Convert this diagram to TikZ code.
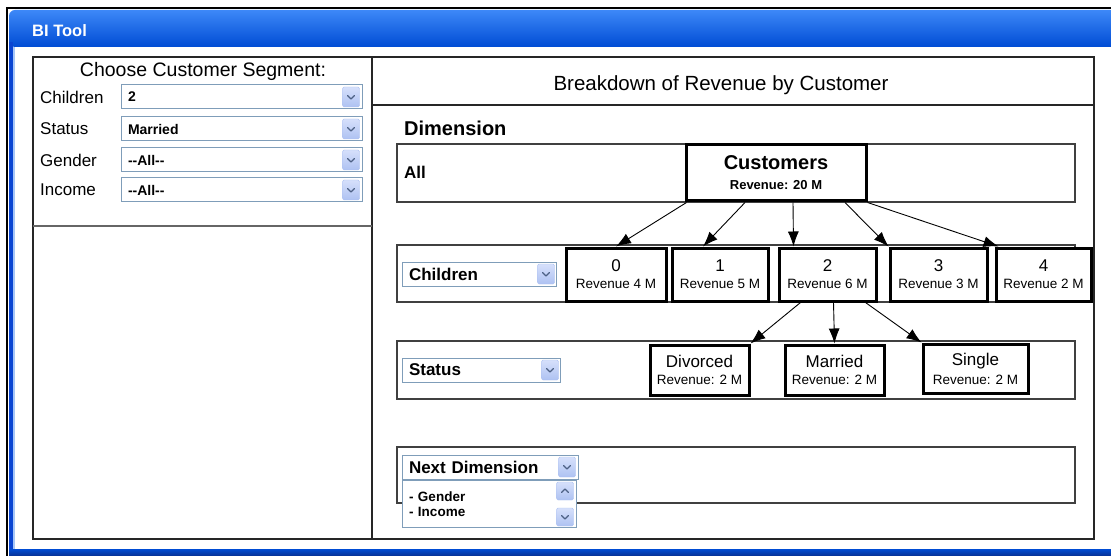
\documentclass[tikz,border=0pt]{standalone}
\usepackage{fontspec}
\setmainfont{Liberation Sans}
\usetikzlibrary{arrows.meta,positioning}

\definecolor{barmid}{HTML}{0865F5}
\definecolor{bartop}{HTML}{3D88F8}
\definecolor{barbot}{HTML}{004CD4}
\definecolor{framedark}{HTML}{0A45D2}
\definecolor{framelight}{HTML}{A6C6F8}
\definecolor{comboline}{HTML}{7F9DB9}
\definecolor{btntop}{HTML}{D6E0FB}
\definecolor{btnbot}{HTML}{AEC2F2}
\definecolor{chevclr}{HTML}{4D6185}
\definecolor{rowline}{HTML}{404040}

\newcommand{\fsz}[1]{\fontsize{#1}{1.15\dimexpr#1pt\relax}\selectfont}
\newcommand{\allopt}{-\kern0pt-All-\kern0pt-}
\newcommand{\revtxt}[2]{{\fsz{17}#1}\\[5pt]{\fsz{13.5}#2}}
\newcommand{\chevdown}[1]{\draw[chev] ([shift={(-3.5,-1.5)}]#1.center) -- ([shift={(0,2)}]#1.center) -- ([shift={(3.5,-1.5)}]#1.center);}
\newcommand{\chevup}[1]{\draw[chev] ([shift={(-3.5,1.5)}]#1.center) -- ([shift={(0,-2)}]#1.center) -- ([shift={(3.5,1.5)}]#1.center);}

\tikzset{
  box/.style={draw, line width=3pt, inner sep=0pt, align=center, fill=white},
  row/.style={draw=rowline, line width=1.2pt, inner sep=0pt},
  combo/.style={draw=comboline, fill=white, line width=1pt, anchor=west, inner xsep=6pt, inner ysep=0pt, minimum height=24pt},
  btn/.style={draw=btnbot, top color=btntop, bottom color=btnbot, rounded corners=1.5pt, minimum width=17pt, minimum height=20pt, inner sep=0pt},
  chev/.style={draw=chevclr, line width=1.3pt, line cap=round, line join=round},
  arr/.style={-{Latex[length=15pt,width=11pt]}, line width=0.9pt},
}

\begin{document}
\begin{tikzpicture}[x=1pt,y=-1pt]
  \useasboundingbox (0,0) rectangle (1111,556);
  \fill[white] (0,0) rectangle (1111,556);
  % Window frame
  \draw[line width=2pt] (7,556) -- (7,8) -- (1111,8);
  \shade[top color=bartop, middle color=barmid, bottom color=barbot, rounded corners=6pt] (9,10) rectangle (1125,47);
  \fill[framedark] (9,42) rectangle (13,551);
  \fill[framelight] (13,47) rectangle (15,549);
  \shade[top color=barbot, bottom color=framedark!70!black] (9,549) rectangle (1111,556);
  \node[text=white, font=\bfseries\fsz{16.5}, anchor=west, inner sep=0pt] (title) at (32,31) {BI Tool};

  % Panels
  \draw[line width=1.3pt, black!85] (33,57) rectangle (1094,539);
  \draw[line width=1.3pt, black!85] (372,57) -- (372,539);
  \draw[line width=2pt, black!60] (33,226) -- (372,226);
  \draw[line width=1.2pt, black!85] (372,105) -- (1094,105);

  % Customer segment
  \node[font=\fsz{19.5}] (segtitle) at (203,71) {Choose Customer Segment:};
  \foreach \lab/\val/\y in {Children/2/97, Status/Married/129, Gender/\allopt/160, Income/\allopt/190}{
    \node[font=\fsz{17}, anchor=west, inner sep=0pt] (lab\lab) at (40,\y) {\lab};
    \node[combo, minimum width=241pt, text width=228pt, font=\bfseries\fsz{14}] (cb\lab) at (121,\y) {\val};
    \node[btn] (bt\lab) at (351,\y) {};
    \chevdown{bt\lab}
  }

  % Breakdown
  \node[font=\fsz{20.5}] (head) at (721,85) {Breakdown of Revenue by Customer};
  \node[font=\bfseries\fsz{20}, anchor=west, inner sep=0pt] (dim) at (404,128) {Dimension};
  \node[row, minimum width=678pt, minimum height=58pt] (rowAll) at (736,173) {};
  \node[row, minimum width=678pt, minimum height=57pt] (rowChildren) at (736,273.5) {};
  \node[row, minimum width=678pt, minimum height=58pt] (rowStatus) at (736,370) {};
  \node[row, minimum width=678pt, minimum height=56pt] (rowNext) at (736,475) {};
  \node[font=\bfseries\fsz{17}, anchor=west, inner sep=0pt] (all) at (404,172) {All};

  % Dropdowns
  \node[combo, minimum width=154pt, text width=141pt, font=\bfseries\fsz{17}] (ddChildren) at (402,274) {Children};
  \node[btn] (bChildren) at (546,274) {};
  \chevdown{bChildren}
  \node[combo, minimum width=158pt, text width=145pt, font=\bfseries\fsz{17}] (ddStatus) at (402,370) {Status};
  \node[btn] (bStatus) at (550,370) {};
  \chevdown{bStatus}
  \node[combo, minimum width=176pt, text width=163pt, font=\bfseries\fsz{17}] (ddNext) at (402,467) {Next Dimension};
  \node[btn] (bNext) at (567,467) {};
  \chevdown{bNext}
  \node[combo, anchor=north west, minimum width=174pt, minimum height=47pt, text width=161pt, align=left, font=\bfseries\fsz{13.5}] (lstNext) at (402,480) {- Gender\\- Income};
  \node[btn, minimum height=18pt] (upNext) at (565,491) {};
  \chevup{upNext}
  \node[btn, minimum height=18pt] (downNext) at (565,517) {};
  \chevdown{downNext}

  % Tree
  \node[box, minimum width=180pt, minimum height=56pt] (cust) at (776,173) {{\bfseries\fsz{20}Customers}\\[8pt]{\bfseries\fsz{13}Revenue: 20 M}};
  \node[box, minimum width=100pt, minimum height=53pt] (c0) at (616,274.5) {\revtxt{0}{Revenue 4 M}};
  \node[box, minimum width=96pt, minimum height=53pt] (c1) at (720,274.5) {\revtxt{1}{Revenue 5 M}};
  \node[box, minimum width=97pt, minimum height=53pt] (c2) at (827.5,274.5) {\revtxt{2}{Revenue 6 M}};
  \node[box, minimum width=97pt, minimum height=53pt] (c3) at (938.5,274.5) {\revtxt{3}{Revenue 3 M}};
  \node[box, minimum width=95pt, minimum height=53pt] (c4) at (1043.5,274.5) {\revtxt{4}{Revenue 2 M}};
  \node[box, minimum width=99pt, minimum height=50pt] (div) at (699.5,370) {\revtxt{Divorced}{Revenue: 2 M}};
  \node[box, minimum width=99pt, minimum height=50pt] (mar) at (834.5,370) {\revtxt{Married}{Revenue: 2 M}};
  \node[box, minimum width=105pt, minimum height=49pt] (sgl) at (975.5,368.5) {\revtxt{Single}{Revenue: 2 M}};

  % Arrows
  \draw[arr] ([xshift=2pt]cust.south west) -- (c0.north);
  \draw[arr] ([xshift=-31pt]cust.south) -- ([xshift=-17pt]c1.north);
  \draw[arr] ([xshift=17pt]cust.south) -- ([xshift=-34pt]c2.north);
  \draw[arr] ([xshift=69pt]cust.south) -- (c3.north west);
  \draw[arr] (cust.south east) -- ([xshift=4pt]c4.north west);
  \draw[arr] ([xshift=-27pt]c2.south) -- (div.north east);
  \draw[arr] ([xshift=6pt]c2.south) -- (mar.north);
  \draw[arr] ([xshift=38pt]c2.south) -- (sgl.north west);
\end{tikzpicture}
\end{document}
